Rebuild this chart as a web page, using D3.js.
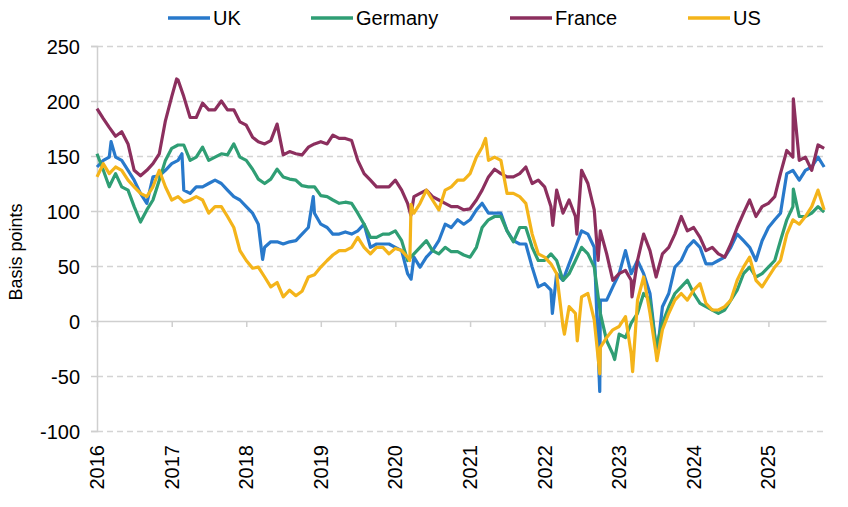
<!DOCTYPE html>
<html>
<head>
<meta charset="utf-8">
<script src="https://cdn.jsdelivr.net/npm/d3@7"></script>
<style>
  body { margin: 0; background: #fff; }
  svg { font-family: "Liberation Sans", Arial, sans-serif; }
  .grid line { stroke: #d4d4d4; stroke-width: 1.3; stroke-dasharray: 6,4; }
  .grid path { display: none; }
  .axis path, .axis line { stroke: #cfcfcf; stroke-width: 1.5; }
  .axis text { fill: #000; font-size: 20px; }
  .line { fill: none; stroke-width: 3.2; stroke-linejoin: round; }
</style>
</head>
<body>
<script>

// one value per month, Jan 2016 .. Oct 2025
var months = d3.timeMonth.range(new Date(2016, 0, 1), new Date(2025, 10, 1));

var uk = [140,146,149,149,146,137,128,116,107,131,132,137,
          143,146,119,116,122,122,125,128,125,119,113,110,
          104,98,88,67,72,72,70,72,73,79,85,98,
          88,85,79,79,81,79,82,88,67,70,70,70,
          67,64,43,58,49,58,64,73,88,85,92,88,
          92,101,107,98,98,98,82,73,70,70,49,31,
          34,28,43,37,52,67,82,79,67,19,19,31,
          43,64,43,55,43,25,-24,13,25,49,55,67,
          73,67,52,52,55,58,67,79,73,67,55,73,
          85,92,98,134,137,128,137,140,149,140];

var germany = [152,137,122,134,122,119,104,90,101,110,128,146,
               157,160,160,146,149,158,146,149,152,151,161,149,
               146,138,129,125,129,138,131,129,128,123,122,122,
               114,113,110,107,108,107,98,88,76,76,79,79,
               82,73,55,61,67,73,64,61,67,63,63,60,
               58,67,85,92,95,95,82,72,85,85,67,55,
               55,61,55,37,43,55,67,61,49,7,-18,-30,
               -12,-15,-2,7,25,19,-24,-2,13,25,31,37,
               25,16,13,10,7,10,19,28,43,49,40,43,
               49,55,73,92,104,95,95,98,104,99];

var france = [193,184,176,168,172,161,137,132,137,143,152,182,
              204,219,204,185,185,198,192,192,200,192,192,181,
              178,167,163,161,164,179,151,154,152,151,158,161,
              163,161,169,166,166,164,146,134,128,122,122,122,
              128,119,107,113,116,119,113,110,107,104,104,101,
              102,110,119,131,138,134,131,131,134,140,125,128,
              122,104,119,98,110,95,137,125,101,82,61,37,
              43,46,37,55,79,64,40,61,67,79,95,82,
              85,76,64,67,61,58,70,85,98,110,95,104,
              107,113,134,155,149,146,149,137,160,157];

var us = [131,143,134,140,137,128,122,116,113,122,137,122,
          110,113,108,110,113,110,98,104,104,95,85,64,
          55,48,49,40,31,35,22,28,23,27,40,42,
          49,55,60,64,64,67,76,67,61,67,67,61,
          66,64,58,98,107,119,110,101,119,122,128,128,
          134,149,158,146,149,146,116,116,113,107,79,61,
          58,52,43,-5,13,7,22,25,1,-24,-15,-8,
          -5,4,-30,19,40,7,-30,-8,7,19,25,19,
          28,34,16,10,10,13,19,37,49,58,37,31,
          40,49,55,79,92,88,95,104,119,101];

// single-day highs and lows between the monthly points
var ukExtra = [["2016-03-10",163],["2017-02-20",152],["2018-03-22",56],["2018-11-25",113],
               ["2020-03-18",38],["2022-02-08",7],["2022-09-28",-64],["2023-07-06",-30]];
var germanyExtra = [["2022-12-10",-35],["2025-05-03",120]];
var franceExtra = [["2017-01-25",220],["2020-03-17",96],["2022-02-10",87],["2022-06-08",79],
                   ["2022-09-20",55],["2023-03-05",22],["2025-05-03",202]];
var usExtra = [["2020-03-12",55],["2020-03-18",106],["2021-03-18",166],["2022-04-08",-12],
               ["2022-06-10",-18],["2022-09-28",-48],["2023-03-08",-46],["2023-07-05",-36]];

var seriesNames = ["UK", "Germany", "France", "US"];
var seriesColors = ["#2879cb", "#2f9e74", "#8c2f5e", "#f4b41a"];
var yTicks = [-100, -50, 0, 50, 100, 150, 200, 250];
var yLabel = "Basis points";

var margin = {top: 46, right: 22, bottom: 76, left: 97},
    width = 848 - margin.left - margin.right,
    height = 507 - margin.top - margin.bottom;

var parse = d3.timeParse("%Y-%m-%d");

// monthly values + extra days, sorted by date
function build(vals, extra) {
    var pts = months.map(function(d, i) { return {date: d, value: vals[i]}; });
    extra.forEach(function(e) { pts.push({date: parse(e[0]), value: e[1]}); });
    pts.sort(function(a, b) { return a.date - b.date; });
    return pts;
}
var data = [build(uk, ukExtra), build(germany, germanyExtra), build(france, franceExtra), build(us, usExtra)];

var x = d3.scaleTime().domain([new Date(2016, 0, 1), new Date(2025, 9, 10)]).range([0, width]);
var y = d3.scaleLinear().domain([-100, 250]).range([height, 0]);

var svg = d3.select("body").append("svg")
    .attr("width", width + margin.left + margin.right)
    .attr("height", height + margin.top + margin.bottom)
  .append("g")
    .attr("transform", "translate(" + margin.left + "," + margin.top + ")");

// dashed grid lines (0 is the solid axis)
svg.append("g")
    .attr("class", "grid")
    .call(d3.axisLeft(y).tickValues(yTicks.filter(function(v) { return v != 0; }))
        .tickSize(-width).tickFormat(""));

// y axis - plain hyphen for negatives like the original
var yAx = svg.append("g")
    .attr("class", "axis")
    .call(d3.axisLeft(y).tickValues(yTicks).tickSize(6).tickPadding(11)
        .tickFormat(function(d) { return String(d); }));
yAx.selectAll("text").attr("dy", "0.35em");

// x axis along zero
svg.append("g")
    .attr("class", "axis")
    .attr("transform", "translate(0," + y(0) + ")")
    .call(d3.axisBottom(x).ticks(d3.timeYear).tickSize(6).tickFormat("").tickSizeOuter(0));

// year labels at the bottom, rotated
svg.append("g").selectAll("text")
    .data(x.ticks(d3.timeYear))
  .enter().append("text")
    .attr("transform", function(d) { return "translate(" + (x(d) + 7) + "," + (height + 14) + ") rotate(-90)"; })
    .style("text-anchor", "end")
    .style("font-size", "20px")
    .text(function(d) { return d.getFullYear(); });

// y label
svg.append("text")
    .attr("transform", "rotate(-90)")
    .attr("x", -(252 - margin.top))
    .attr("y", 22 - margin.left)
    .style("text-anchor", "middle")
    .style("font-size", "18px")
    .text(yLabel);

// series
var valueline = d3.line()
    .x(function(d) { return x(d.date); })
    .y(function(d) { return y(d.value); });

data.forEach(function(d, i) {
    svg.append("path")
        .attr("class", "line")
        .style("stroke", seriesColors[i])
        .attr("d", valueline(d));
});

// legend
var legendX = [168, 311, 510, 688];
var leg = d3.select("svg").append("g");
seriesNames.forEach(function(name, i) {
    leg.append("line")
        .attr("x1", legendX[i]).attr("x2", legendX[i] + 42)
        .attr("y1", 18).attr("y2", 18)
        .style("stroke", seriesColors[i])
        .style("stroke-width", 3.5);
    leg.append("text")
        .attr("x", legendX[i] + 45)
        .attr("y", 25)
        .style("font-size", "20px")
        .text(name);
});

</script>
</body>
</html>
